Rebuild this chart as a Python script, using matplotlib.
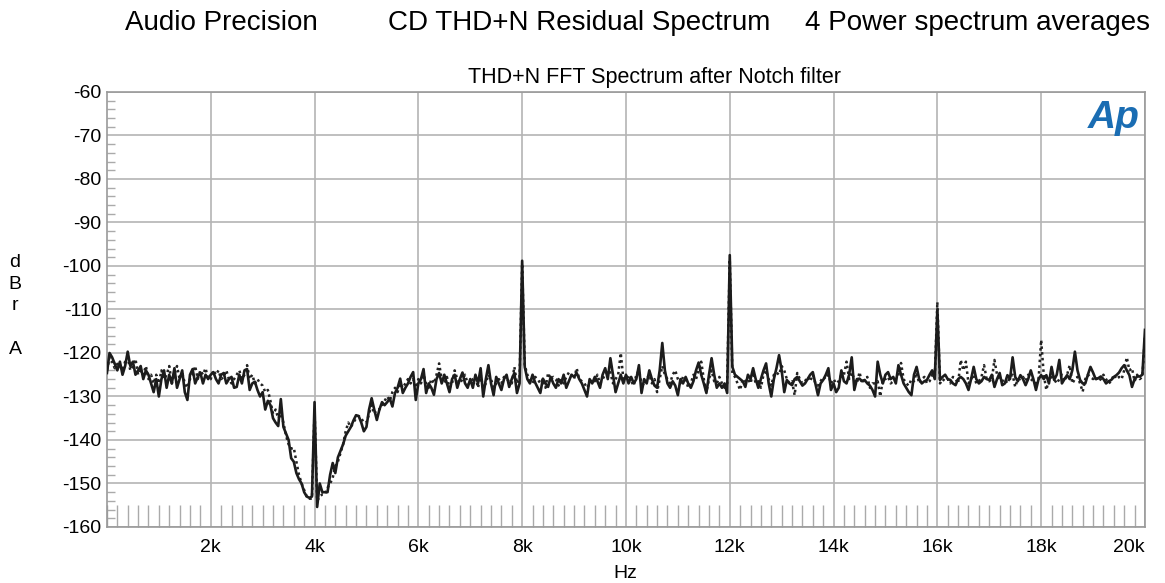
import numpy as np
import matplotlib
matplotlib.use("Agg")
import matplotlib.pyplot as plt
from matplotlib.ticker import MultipleLocator, FixedLocator

plt.rcParams['font.family'] = ['Liberation Sans', 'DejaVu Sans']

# FFT bins every 50 Hz, 0 .. 20 kHz (one row = 1 kHz)
FREQ_STEP_HZ = 50

# solid trace (dBr A)
solid_rows = [
    [-124.6, -120, -121, -122.5, -124, -122, -125, -123, -119.7, -123, -122, -125, -124, -123, -126, -124, -125, -127, -129, -126],
    [-130, -126, -124, -128, -125, -127, -123.5, -128, -126, -124, -129, -130.8, -125, -123.7, -127, -125.5, -124.5, -127, -125, -126],
    [-125, -124.4, -126, -127, -125, -124.6, -127, -126, -125.5, -128, -127.8, -125, -127, -124, -123.7, -128.5, -127, -126.6, -128.5, -130],
    [-129, -133, -131, -132, -135, -136, -136.8, -130.6, -137, -138.5, -140, -144.2, -145, -147.6, -149, -150, -152, -153, -153.3, -153],
    [-131.3, -155.4, -150, -152, -152, -152, -148, -145.3, -147.6, -144, -142.5, -141, -139, -138, -137, -135.5, -134.3, -134.5, -136, -138],
    [-137, -133, -130.4, -133, -135.4, -133, -131.3, -132, -131.3, -130.5, -132.3, -129.2, -128, -125.9, -129.2, -128, -127, -125.5, -124.4, -130.8],
    [-127, -126, -123.7, -129.2, -127, -128, -129.6, -126, -124.6, -127, -125, -127, -129, -126, -125, -128, -126, -124.5, -127, -128],
    [-126, -128, -125, -127, -123.5, -130, -126, -122.8, -127, -129.7, -125.5, -127, -128.5, -126, -125, -127.8, -126, -124.6, -129.2, -127],
    [-98.8, -123.2, -126, -127, -125, -126.8, -128, -129.2, -125.9, -127, -127.8, -125.5, -127, -128, -126, -127, -125, -128, -126.5, -125],
    [-125.5, -124.6, -126, -127, -128.5, -130, -126, -127, -125.5, -126.5, -128, -125, -123.5, -126, -121.2, -125, -129, -127, -125, -127],
    [-125, -127, -125.5, -127, -126, -122.8, -129.2, -126, -127, -124, -126, -127.5, -128, -124, -117.7, -124, -127, -128, -126.5, -127.5],
    [-129.7, -126, -127, -125.5, -127, -128, -126.5, -124, -122.2, -125, -127, -129.2, -125, -121.2, -125, -128, -127, -128, -127, -129.2],
    [-97.5, -123.2, -125, -125.5, -126, -126.5, -127.8, -125, -126, -123.5, -126, -128, -126, -124, -122.4, -127, -130, -126, -123.5, -120.5],
    [-124, -129, -126.2, -127, -127.4, -126, -125.5, -126.5, -127.5, -127, -126, -125, -124.4, -127, -129.7, -127, -126.2, -125, -123.5, -128.5],
    [-127, -129, -128, -124, -126.5, -127, -125, -121, -128.5, -126, -125.9, -126.5, -126.2, -127, -127.5, -128.5, -130, -122, -125, -127],
    [-125, -124.4, -126, -125.5, -127, -122.8, -125, -127, -128, -129, -129.7, -125, -123.2, -126, -127, -126.5, -126.2, -125, -124, -126],
    [-110, -126.2, -125.5, -125, -126, -126.2, -127, -127.4, -126, -125.5, -126, -127, -128.5, -126, -123.2, -126, -127, -126.5, -125.5, -126],
    [-126.2, -125, -127.8, -126, -124.6, -127.4, -127, -125.1, -126, -121, -125.5, -126.5, -125.1, -126, -127.4, -126, -124, -126, -128.5, -126],
    [-125.1, -126, -125.1, -127, -123.2, -126.2, -125, -121.6, -127, -126, -125.1, -126, -124, -119.7, -124, -126.2, -127, -127, -125, -123.2],
    [-124.5, -126, -125.8, -125.4, -126, -127, -126.5, -126.2, -125.5, -125.1, -124.5, -123.5, -122.8, -124, -125.1, -127.8, -126, -125.4, -125.4, -125],
    [-114.7],
]

# dotted trace (dBr A)
dotted_rows = [
    [-124, -121, -122, -123.5, -122.5, -123, -124, -122, -121, -124, -123, -121.4, -125, -124, -125, -123, -126, -125, -127, -125],
    [-127, -124, -126, -125, -123, -127, -125, -123, -126, -124.5, -127, -128, -126, -125, -123, -126, -124, -125, -123.5, -126],
    [-126, -124, -125, -124, -126, -125.5, -124, -126, -127, -126, -125, -124, -126, -125, -122.8, -126, -125, -127, -126, -127],
    [-127.5, -129, -128.5, -131, -134, -133, -135, -134, -136, -139, -141, -142, -141.8, -145, -148, -150, -151.5, -153, -153.5, -153.5],
    [-133, -154, -153, -152.5, -152.5, -151, -150, -148.7, -146, -145, -143, -141, -138, -136, -137, -136, -135, -134.5, -135, -136],
    [-136, -134, -132, -134, -133, -133, -132, -131, -130, -131, -129, -128, -129, -127, -128, -127, -126, -127, -126, -128],
    [-126, -127, -125, -127, -128, -126, -127, -125, -122.4, -126, -127, -125.5, -128, -127, -124, -126, -127, -126, -125, -127],
    [-127, -126, -125.5, -128, -125, -128, -127, -125, -126, -128, -127, -126, -127, -125.5, -126, -126.5, -127, -123.2, -127, -126],
    [-99.5, -122.8, -125, -126, -127, -125.5, -126, -127, -126, -128, -124.6, -126, -125.5, -126, -127.5, -126, -127, -125.5, -124.5, -125],
    [-126, -123.5, -126, -126.5, -127, -128, -127, -126, -126.5, -125, -127, -126, -125, -124, -124.5, -127, -126, -125, -120, -126],
    [-126, -125, -126.5, -127.5, -125, -124, -127, -127.5, -126, -125, -127, -126, -129, -126, -123, -125, -126, -127, -125, -124],
    [-126, -127, -125.5, -126, -128, -127, -125, -126, -124, -122, -126, -129, -126, -124, -126.5, -127, -125.5, -127, -128, -127],
    [-98.5, -124.6, -125.5, -127, -128.5, -126, -126.5, -126, -127, -124.5, -127, -126.5, -128, -125, -124, -126, -127.5, -125, -124.5, -125],
    [-123, -124, -126, -127, -126.5, -129.7, -124.6, -126, -127, -126.5, -125.5, -126.5, -125, -127, -127.5, -126.5, -125.5, -126, -125, -127],
    [-126, -127, -126.5, -125, -125, -122, -126, -124.5, -126, -127, -124.4, -127, -126, -125.5, -128, -127, -127, -126.5, -130, -126],
    [-126, -125.5, -127, -126.5, -126, -125, -122.3, -126, -127, -127.5, -126, -126.5, -124.5, -127, -126, -125.5, -127, -126.5, -125, -125.5],
    [-108.3, -127, -126, -126.5, -126, -127, -125.5, -126, -127, -121.6, -124, -122, -127, -126, -125, -127, -126.5, -125.5, -122.8, -126],
    [-126.5, -126, -121.6, -125, -126, -126.5, -126, -127, -125.5, -125, -127.8, -126, -126, -125.5, -126.5, -125, -126, -126.5, -127, -126],
    [-117, -125, -128.5, -126, -125.5, -126, -127, -126, -125, -126.5, -125, -122.8, -127, -126, -125.5, -127, -128.9, -126, -125, -125.5],
    [-126, -125.5, -126.5, -126, -125, -126, -127, -126.5, -125, -126, -125.5, -126, -124, -121, -124, -123.5, -126.5, -125, -126, -125.5],
    [-116],
]

solid_db = np.concatenate([np.array(r, dtype=float) for r in solid_rows])
dotted_db = np.concatenate([np.array(r, dtype=float) for r in dotted_rows])
freq_hz = np.arange(len(solid_db)) * FREQ_STEP_HZ

x_ticks = [2000, 4000, 6000, 8000, 10000, 12000, 14000, 16000, 18000, 20000]
x_labels = ['2k', '4k', '6k', '8k', '10k', '12k', '14k', '16k', '18k', '20k']
y_ticks = [-160, -150, -140, -130, -120, -110, -100, -90, -80, -70, -60]

fig = plt.figure(figsize=(11.65, 5.83), dpi=100)
ax = fig.add_axes([0.0918, 0.0961, 0.8910, 0.7461])

ax.plot(freq_hz, dotted_db, color='#222222', lw=1.8, linestyle=(0, (1, 1.3)), zorder=3)
ax.plot(freq_hz, solid_db, color='#1c1c1c', lw=1.9, zorder=4)

ax.set_xlim(0, 20000)
ax.set_ylim(-160, -60)

ax.xaxis.set_major_locator(FixedLocator(x_ticks))
ax.set_xticklabels(x_labels)
ax.xaxis.set_minor_locator(MultipleLocator(200))
ax.yaxis.set_major_locator(FixedLocator(y_ticks))
ax.set_yticklabels([str(v) for v in y_ticks])
ax.yaxis.set_minor_locator(MultipleLocator(2))

ax.grid(which='major', color='#b4b4b4', lw=1.2, zorder=1)
ax.tick_params(which='major', length=0, labelsize=14, pad=4)
ax.tick_params(axis='x', which='major', pad=9)
ax.tick_params(axis='x', which='minor', direction='in', length=16, width=1, color='#aaaaaa', bottom=True, top=False)
ax.tick_params(axis='y', which='minor', direction='in', length=6, width=1, color='#aaaaaa', left=True, right=False)
ax.get_xticklabels()[-1].set_horizontalalignment('right')

for sp in ax.spines.values():
    sp.set_color('#999999')
    sp.set_linewidth(1.2)

fig.text(654 / 1165, 1 - 78 / 583, 'THD+N FFT Spectrum after Notch filter', fontsize=15.5, ha='center', va='center')
ax.text(0.995, 0.982, 'Ap', transform=ax.transAxes, ha='right', va='top',
        fontsize=28, fontweight='bold', fontstyle='italic', color='#1a6db3')

fig.text(125 / 1165, 1 - 23 / 583, 'Audio Precision', fontsize=20, ha='left', va='center')
fig.text(388 / 1165, 1 - 23 / 583, 'CD THD+N Residual Spectrum', fontsize=20, ha='left', va='center')
fig.text(1150 / 1165, 1 - 23 / 583, '4 Power spectrum averages', fontsize=20, ha='right', va='center')

fig.text(625 / 1165, 1 - 574 / 583, 'Hz', fontsize=14, ha='center', va='center')
for ch, yp in [('d', 262), ('B', 284), ('r', 306), ('A', 350)]:
    fig.text(15 / 1165, 1 - yp / 583, ch, fontsize=14, ha='center', va='center')

fig.savefig('out.png', dpi=100)
